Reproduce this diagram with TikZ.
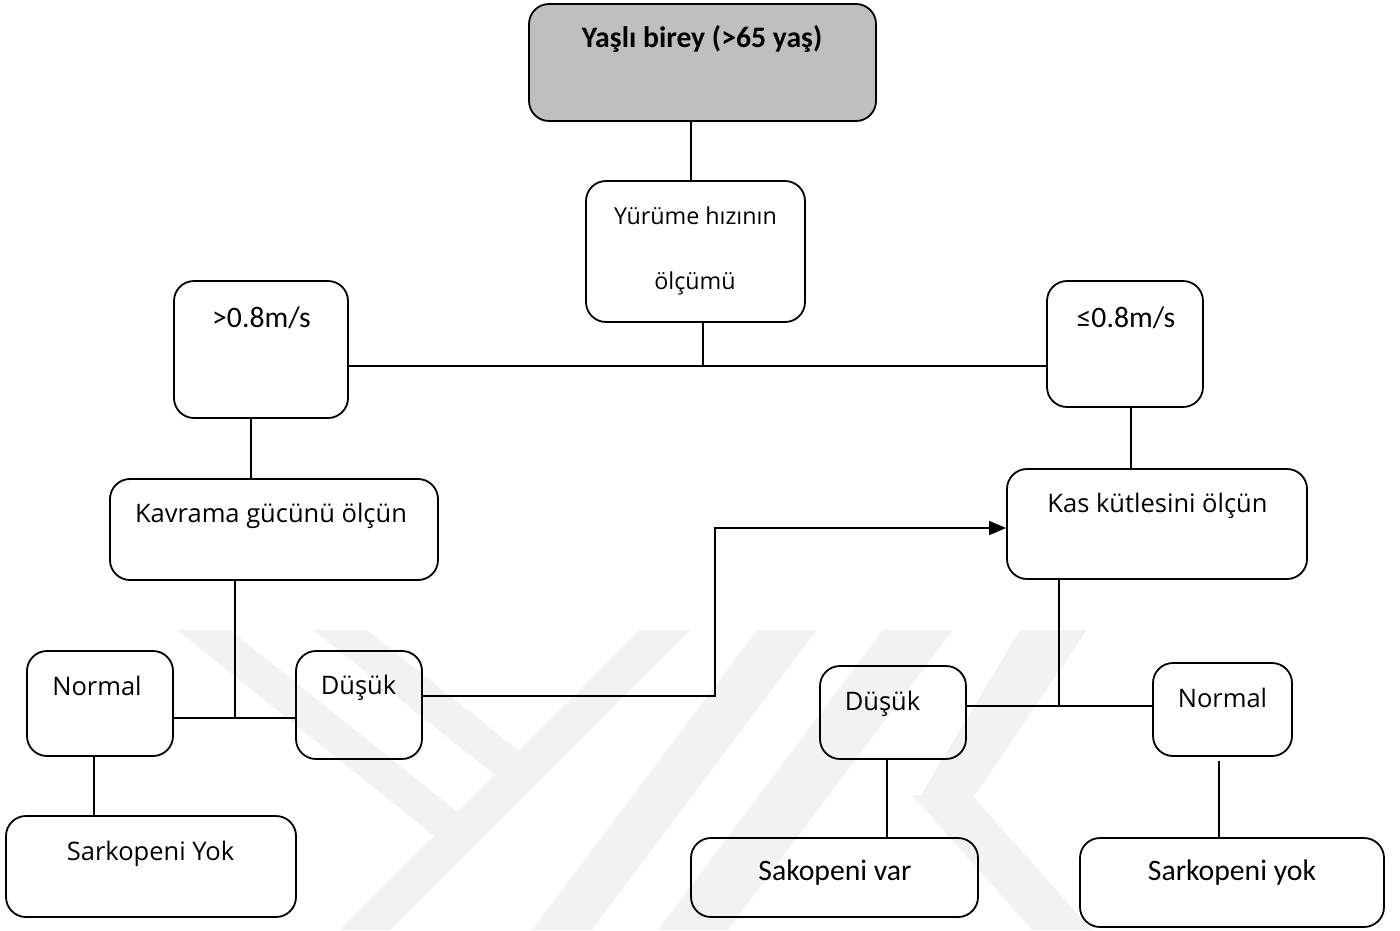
\documentclass[tikz,border=0pt]{standalone}
\usepackage{fontspec}
\setmainfont{Open Sans}
\newfontfamily\calib{Carlito}
\usetikzlibrary{arrows.meta}
\definecolor{topfill}{RGB}{191,191,191}
\definecolor{wmgray}{RGB}{242,242,242}
\begin{document}
\begin{tikzpicture}[x=1pt,y=-1pt,
  box/.style={draw=black, line width=1.8pt, rounded corners=20pt, inner sep=0pt},
  osf/.style={font=\fontsize{25.5}{30}\selectfont, inner sep=0pt, anchor=base},
  osfs/.style={font=\fontsize{23.3}{28}\selectfont, inner sep=0pt, anchor=base},
  cal/.style={font=\calib\fontsize{29.7}{35}\selectfont, inner sep=0pt, anchor=base},
  calb/.style={font=\calib\bfseries\fontsize{29.7}{35}\selectfont, inner sep=0pt, anchor=base},
  conn/.style={line width=1.6pt, draw=black},
  wm/.style={fill=wmgray, draw=none}]
\useasboundingbox (0,0) rectangle (1400,930);
\fill[white] (0,0) rectangle (1400,930);

% watermark
\begin{scope}
\clip (0,630) rectangle (1400,930);
\fill[wm] (177,630) -- (230,630) -- (458,812) -- (434,836) -- cycle;
\fill[wm] (313,630) -- (367,630) -- (519,751) -- (495,775) -- cycle;
\fill[wm] (640,630) -- (690,630) -- (390,930) -- (340,930) -- cycle;
\fill[wm] (757,630) -- (817,630) -- (592,930) -- (532,930) -- cycle;
\fill[wm] (883,630) -- (953,630) -- (728,930) -- (658,930) -- cycle;
\fill[wm] (1020,630) -- (1087,630) -- (975,795) -- (915,805) -- cycle;
\fill[wm] (912,795) -- (972,795) -- (1092,930) -- (1032,930) -- cycle;
\end{scope}

% boxes
\node[box, fill=topfill, minimum width=347pt, minimum height=117pt] (top) at (702.5,62.5) {};
\node[box, minimum width=219pt, minimum height=141pt] (yur) at (695.5,251.5) {};
\node[box, minimum width=174pt, minimum height=137pt] (gt) at (261,349.5) {};
\node[box, minimum width=156pt, minimum height=126pt] (le) at (1125,344) {};
\node[box, minimum width=328pt, minimum height=101pt] (kav) at (274,529.5) {};
\node[box, minimum width=300pt, minimum height=110pt] (kas) at (1157,524) {};
\node[box, minimum width=146pt, minimum height=105pt] (nl) at (100,703.5) {};
\node[box, minimum width=126pt, minimum height=108pt] (dl) at (359,705) {};
\node[box, minimum width=146pt, minimum height=93pt] (dr) at (893,712.5) {};
\node[box, minimum width=139pt, minimum height=93pt] (nr) at (1222.5,709.5) {};
\node[box, minimum width=290pt, minimum height=101pt] (syl) at (151,866.5) {};
\node[box, minimum width=287pt, minimum height=79pt] (sv) at (834.5,877.5) {};
\node[box, minimum width=304pt, minimum height=89pt] (sy) at (1232,882.5) {};

% texts
\node[calb] (top-t) at (702,47) {Yaşlı birey (>65 yaş)};
\node[osfs] (yur-t1) at (695.5,224) {Yürüme hızının};
\node[osfs] (yur-t2) at (695,289) {ölçümü};
\node[cal] (gt-t) at (261.5,327) {>0.8m/s};
\node[cal] (le-t) at (1126,327) {≤0.8m/s};
\node[osf] (kav-t) at (271,522) {Kavrama gücünü ölçün};
\node[osf] (kas-t) at (1157.5,512) {Kas kütlesini ölçün};
\node[osf] (nl-t) at (97,695) {Normal};
\node[osf] (dl-t) at (358.5,694) {Düşük};
\node[osf] (dr-t) at (882.5,710) {Düşük};
\node[osf] (nr-t) at (1222.5,707) {Normal};
\node[osf] (syl-t) at (150.5,860) {Sarkopeni Yok};
\node[cal] (sv-t) at (835,880) {Sakopeni var};
\node[cal] (sy-t) at (1232,880) {Sarkopeni yok};

% connectors
\coordinate (hy) at (703,366);
\coordinate (c2) at (251,450);
\coordinate (c3) at (1131,440);
\coordinate (j4) at (235,718);
\coordinate (j5) at (715,696);
\coordinate (j6) at (715,528);
\coordinate (j7) at (1059,706);
\coordinate (c8) at (94,780);
\coordinate (c9) at (887,800);
\coordinate (c10) at (1219,761);

\draw[conn] ([xshift=-11.5pt]top.south) -- ([xshift=-4.5pt]yur.north);
\draw[conn] (yur.south -| hy) -- (hy);
\draw[conn] (gt.east |- hy) -- (le.west |- hy);
\draw[conn] (gt.south -| c2) -- (kav.north -| c2);
\draw[conn] (le.south -| c3) -- (kas.north -| c3);
\draw[conn] (kav.south -| j4) -- (j4);
\draw[conn] (nl.east |- j4) -- (dl.west |- j4);
\draw[conn, -{Triangle[length=17pt,width=14pt]}] (dl.east |- j5) -- (j5) -- (j6) -- (kas.west |- j6);
\draw[conn] (kas.south -| j7) -- (j7);
\draw[conn] (dr.east |- j7) -- (nr.west |- j7);
\draw[conn] (nl.south -| c8) -- (syl.north -| c8);
\draw[conn] (dr.south -| c9) -- (sv.north -| c9);
\draw[conn] (c10) -- (sy.north -| c10);
\end{tikzpicture}
\end{document}
